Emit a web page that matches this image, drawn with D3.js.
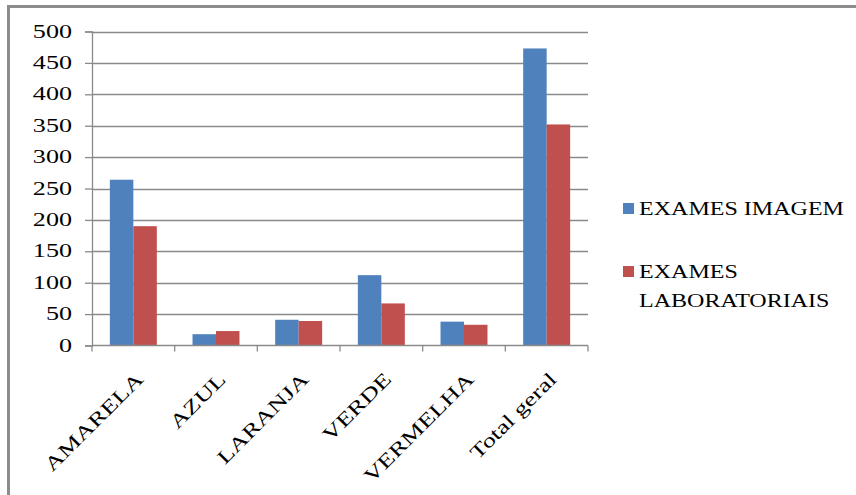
<html>
  <head>
    <meta charset="utf-8" />
    <script src="https://d3js.org/d3.v7.min.js"></script>
    <style>
      body { margin: 0; background: #fff; }
      svg text { font-family: "Liberation Serif", "Times New Roman", serif; fill: #000; }
    </style>
  </head>
  <body>
    <div class="container"></div>
  </body>
</html>

<script>
  const categories = ["AMARELA", "AZUL", "LARANJA", "VERDE", "VERMELHA", "Total geral"];
  const seriesNames = ["EXAMES IMAGEM", "EXAMES LABORATORIAIS"];
  const imagem = [264, 18, 41, 112, 38, 473];
  const laboratoriais = [190, 23, 39, 67, 33, 352];
  const yTicks = [0, 50, 100, 150, 200, 250, 300, 350, 400, 450, 500];
  const colors = ["#4F81BD", "#C0504D"];

  const width = 856;
  const height = 495;
  const plot = { left: 92, right: 588, top: 31.5, bottom: 345.5 };
  const stretch = 1.35; // the text in the picture is drawn wide

  const svg = d3
    .select(".container")
    .append("svg")
    .attr("width", width)
    .attr("height", height);

  // outer frame (only top and left edges show in the picture)
  svg.append("path")
    .attr("d", `M8.5,${height} V6.5 H${width}`)
    .attr("fill", "none")
    .attr("stroke", "#8c8c8c")
    .attr("stroke-width", 3);

  const x = d3.scaleBand().domain(categories).range([plot.left, plot.right]);
  const x1 = d3.scaleBand().domain([0, 1]).range([0, x.bandwidth()]).paddingOuter(0.76);
  const y = d3.scaleLinear().domain([0, 500]).range([plot.bottom, plot.top]);

  // gridlines
  svg.append("g")
    .selectAll("line")
    .data(yTicks.slice(1))
    .join("line")
    .attr("x1", plot.left)
    .attr("x2", plot.right)
    .attr("y1", (d) => Math.round(y(d)) + 0.5)
    .attr("y2", (d) => Math.round(y(d)) + 0.5)
    .attr("stroke", "#8a8a8a")
    .attr("stroke-width", 1.3);

  // bars
  const series = [imagem, laboratoriais];
  svg.append("g")
    .selectAll("g")
    .data(series)
    .join("g")
    .attr("fill", (d, i) => colors[i])
    .each(function (vals, si) {
      d3.select(this)
        .selectAll("rect")
        .data(vals)
        .join("rect")
        .attr("x", (d, i) => x(categories[i]) + x1(si))
        .attr("width", x1.bandwidth())
        .attr("y", (d) => y(d))
        .attr("height", (d) => y(0) - y(d));
    });

  // y axis
  const yAxis = svg.append("g")
    .attr("transform", `translate(${plot.left},0)`)
    .call(d3.axisLeft(y).tickValues(yTicks).tickSize(7).tickFormat(""));
  yAxis.select(".domain").attr("stroke", "#8a8a8a").attr("stroke-width", 1.3);
  yAxis.selectAll(".tick line").attr("stroke", "#8a8a8a").attr("stroke-width", 1.3);
  svg.append("g")
    .selectAll("text")
    .data(yTicks)
    .join("text")
    .attr("transform", (d) => `translate(72,${y(d)}) scale(1.45,1)`)
    .attr("text-anchor", "end")
    .attr("dy", "0.34em")
    .attr("font-size", 18)
    .text((d) => d);

  // x axis
  const xAxis = svg.append("g").attr("transform", `translate(0,${plot.bottom})`);
  xAxis.append("line")
    .attr("x1", plot.left)
    .attr("x2", plot.right)
    .attr("stroke", "#8a8a8a")
    .attr("stroke-width", 1.3);
  xAxis.selectAll(".tk")
    .data(categories.concat(["end"]))
    .join("line")
    .attr("class", "tk")
    .attr("x1", (d, i) => plot.left + i * x.bandwidth())
    .attr("x2", (d, i) => plot.left + i * x.bandwidth())
    .attr("y2", 6)
    .attr("stroke", "#8a8a8a")
    .attr("stroke-width", 1.3);
  xAxis.selectAll("text")
    .data(categories)
    .join("text")
    .attr("transform", (d) => `translate(${x(d) + x.bandwidth() / 2 + 11},${35}) rotate(-45) scale(${stretch},1)`)
    .attr("text-anchor", "end")
    .attr("font-size", 19.5)
    .text((d) => d);

  // legend
  const legend = svg.append("g");
  const legendItems = [
    { y: 214.5, lines: [seriesNames[0]] },
    { y: 277.5, lines: ["EXAMES", "LABORATORIAIS"] },
  ];
  legendItems.forEach((item, i) => {
    legend.append("rect")
      .attr("x", 623)
      .attr("y", item.y - 11.5)
      .attr("width", 11)
      .attr("height", 11)
      .attr("fill", colors[i]);
    item.lines.forEach((ln, j) => {
      legend.append("text")
        .attr("transform", `translate(639,${item.y + j * 29}) scale(1.3,1)`)
        .attr("font-size", 18.5)
        .text(ln);
    });
  });
</script>
